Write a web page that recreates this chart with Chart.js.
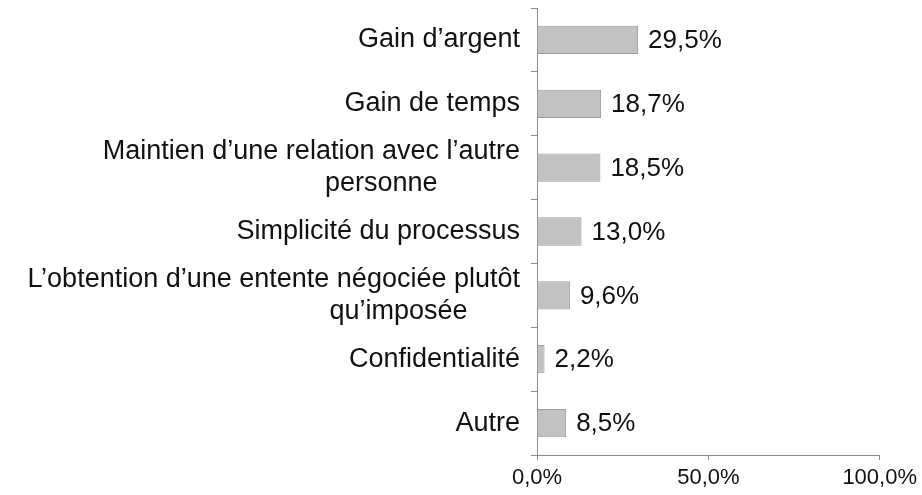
<!DOCTYPE html>
<html>
<head>
<meta charset="utf-8">
<script src="https://cdn.jsdelivr.net/npm/chart.js@4"></script>
<style>
  html, body { margin: 0; padding: 0; background: #fff; }
  #wrap { width: 922px; height: 495px; }
</style>
</head>
<body>
<div id="wrap"><canvas id="raisonsChart"></canvas></div>
<script>
// Données
const categories = [
    'Gain d’argent',
    'Gain de temps',
    ['Maintien d’une relation avec l’autre', 'personne'],
    'Simplicité du processus',
    ['L’obtention d’une entente négociée plutôt', 'qu’imposée'],
    'Confidentialité',
    'Autre'
];
const pourcentages = [29.5, 18.7, 18.5, 13.0, 9.6, 2.2, 8.5];
const ticksX = [0, 50, 100];

// décalage (en espaces) de la 2e ligne des libellés sur deux lignes
const retraitLigne = { 2: 11, 4: 7 };

const formatPct = v => v.toFixed(1).replace('.', ',') + '%';

const etiquettesValeurs = {
    id: 'etiquettesValeurs',
    afterDatasetsDraw(chart) {
        const ctx = chart.ctx;
        const meta = chart.getDatasetMeta(0);
        ctx.save();
        ctx.font = '26px "Liberation Sans", Arial, sans-serif';
        ctx.fillStyle = '#111';
        ctx.textAlign = 'left';
        ctx.textBaseline = 'middle';
        meta.data.forEach((bar, i) => {
            ctx.fillText(formatPct(pourcentages[i]), bar.x + 10, bar.y + 1);
        });
        ctx.restore();
    }
};

const ctx = document.getElementById('raisonsChart').getContext('2d');
new Chart(ctx, {
    type: 'bar',
    data: {
        labels: categories,
        datasets: [{
            data: pourcentages,
            backgroundColor: '#c2c2c2',
            borderColor: '#9a9a9a',
            borderWidth: 1,
            barPercentage: 0.54,
            categoryPercentage: 0.82
        }]
    },
    plugins: [etiquettesValeurs],
    options: {
        indexAxis: 'y',
        responsive: true,
        maintainAspectRatio: false,
        animation: false,
        layout: { padding: { top: 8, right: 40, left: 0, bottom: 0 } },
        plugins: {
            legend: { display: false },
            tooltip: { enabled: false }
        },
        scales: {
            y: {
                ticks: {
                    color: '#111',
                    padding: 11,
                    autoSkip: false,
                    font: { family: '"Liberation Sans", Arial, sans-serif', size: 27, lineHeight: 1.2 },
                    callback: function (val, i) {
                        const lab = categories[i];
                        if (!Array.isArray(lab)) return lab;
                        const n = retraitLigne[i] || 0;
                        return lab.map((l, k) => k ? l + '\u00a0'.repeat(n) : l);
                    }
                },
                grid: {
                    drawOnChartArea: false,
                    tickLength: 6,
                    color: '#8c8c8c'
                },
                border: { color: '#8c8c8c', width: 1 },
                afterFit: scale => {
                    scale.width = 537;
                    scale.paddingTop = 0;
                    scale.paddingBottom = 0;
                }
            },
            x: {
                min: 0,
                max: 100,
                afterBuildTicks: scale => {
                    scale.ticks = ticksX.map(v => ({ value: v }));
                },
                ticks: {
                    color: '#111',
                    padding: 5,
                    maxRotation: 0,
                    font: { family: '"Liberation Sans", Arial, sans-serif', size: 22 },
                    callback: v => formatPct(v)
                },
                grid: {
                    drawOnChartArea: false,
                    tickLength: 5,
                    color: '#8c8c8c'
                },
                border: { color: '#8c8c8c', width: 1 },
                afterFit: scale => { scale.height = 40; }
            }
        }
    }
});
</script>
</body>
</html>
